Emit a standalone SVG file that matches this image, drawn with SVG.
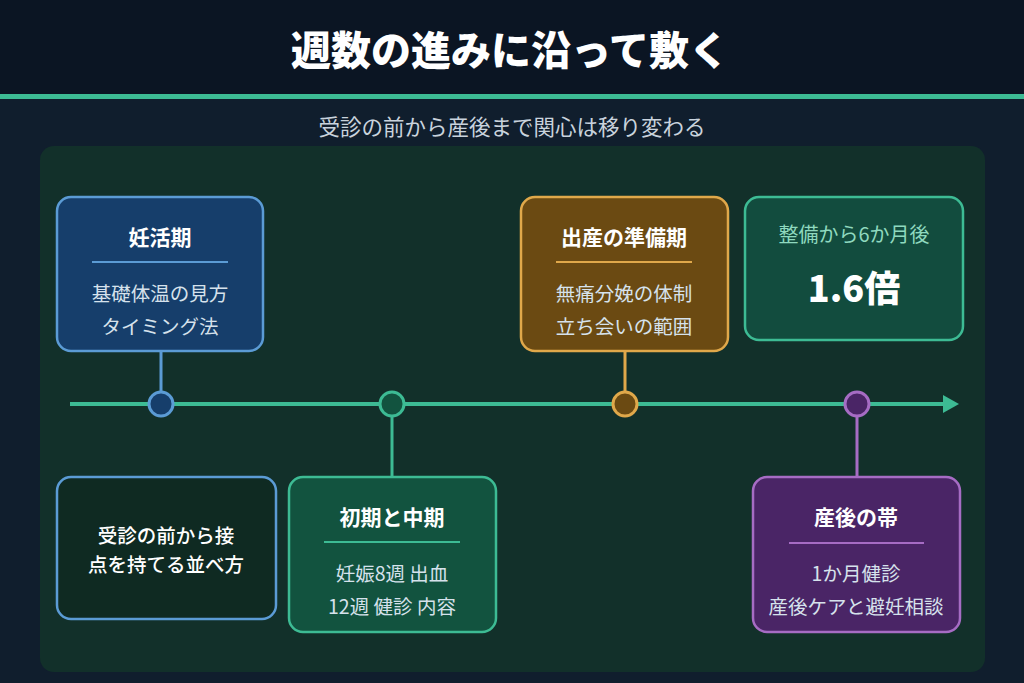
<svg xmlns="http://www.w3.org/2000/svg" width="1024" height="683" viewBox="0 0 1024 683">
<defs>
<style>
text{font-family:"Noto Sans CJK JP","Noto Sans",sans-serif;text-anchor:middle}
.title{font-size:40px;font-weight:900;fill:#ffffff}
.sub{font-size:21.5px;fill:#c9d3dd}
.h{font-size:21px;font-weight:700;fill:#ffffff}
.b{font-size:19.5px;fill:#d6e2ec}
.box{stroke-width:2.5}
</style>
</defs>
<rect x="0" y="0" width="1024" height="683" fill="#101e2d"/>
<rect x="0" y="0" width="1024" height="95" fill="#0b1523"/>
<rect x="0" y="94" width="1024" height="5" fill="#3dbb94"/>
<text class="title" x="510" y="65">週数の進みに沿って敷く</text>
<text class="sub" x="512" y="135">受診の前から産後まで関心は移り変わる</text>
<rect x="40" y="146" width="945" height="526" rx="14" fill="#12302a"/>

<g id="connectors" stroke-width="3" fill="none">
<line x1="70" y1="404" x2="944" y2="404" stroke="#3dbb94" stroke-width="4"/>
<path d="M943,395 L959,404 L943,413 Z" fill="#3dbb94" stroke="none"/>
<line x1="161" y1="351" x2="161" y2="392" stroke="#5b9bd5"/>
<line x1="392" y1="416" x2="392" y2="477" stroke="#3dbb94"/>
<line x1="625" y1="351" x2="625" y2="392" stroke="#e0a84a"/>
<line x1="857" y1="416" x2="857" y2="477" stroke="#a66cc4"/>
<circle cx="161" cy="404" r="12" fill="#163e6b" stroke="#5b9bd5"/>
<circle cx="392" cy="404" r="12" fill="#12533f" stroke="#3dbb94"/>
<circle cx="625" cy="404" r="12" fill="#6b4a12" stroke="#e0a84a"/>
<circle cx="857" cy="404" r="12" fill="#4a2566" stroke="#a66cc4"/>
</g>

<g id="node-ninkatsu">
<rect class="box" x="57" y="197" width="206" height="154" rx="14" fill="#163e6b" stroke="#5b9bd5"/>
<text class="h" x="160" y="245">妊活期</text>
<line x1="92" y1="262" x2="228" y2="262" stroke="#5b9bd5" stroke-width="2"/>
<text class="b" x="160" y="301">基礎体温の見方</text>
<text class="b" x="160" y="334">タイミング法</text>
</g>

<g id="node-shussan">
<rect class="box" x="521" y="197" width="207" height="154" rx="14" fill="#6b4a12" stroke="#e0a84a"/>
<text class="h" x="624" y="245">出産の準備期</text>
<line x1="556" y1="262" x2="692" y2="262" stroke="#e0a84a" stroke-width="2"/>
<text class="b" x="624" y="301">無痛分娩の体制</text>
<text class="b" x="624" y="334">立ち会いの範囲</text>
</g>

<g id="node-stat">
<rect class="box" x="745" y="197" width="218" height="143" rx="14" fill="#124c3e" stroke="#3dbb94"/>
<text x="854" y="242" style="font-size:20px;fill:#8fd9bf">整備から6か月後</text>
<text x="854" y="302" style="font-size:36px;font-weight:900;fill:#ffffff">1.6倍</text>
</g>

<g id="node-note">
<rect class="box" x="57" y="477" width="219" height="142" rx="14" fill="#0f2a22" stroke="#5b9bd5"/>
<text x="166" y="543" style="font-size:19.5px;font-weight:500;fill:#ffffff">受診の前から接</text>
<text x="166" y="572" style="font-size:19.5px;font-weight:500;fill:#ffffff">点を持てる並べ方</text>
</g>

<g id="node-shoki">
<rect class="box" x="289" y="477" width="207" height="155" rx="14" fill="#12533f" stroke="#3dbb94"/>
<text class="h" x="392" y="525">初期と中期</text>
<line x1="324" y1="542" x2="460" y2="542" stroke="#3dbb94" stroke-width="2"/>
<text class="b" x="392" y="581">妊娠8週 出血</text>
<text class="b" x="392" y="614">12週 健診 内容</text>
</g>

<g id="node-sango">
<rect class="box" x="753" y="477" width="207" height="155" rx="14" fill="#4a2566" stroke="#a66cc4"/>
<text class="h" x="856" y="525">産後の帯</text>
<line x1="789" y1="543" x2="924" y2="543" stroke="#a66cc4" stroke-width="2"/>
<text class="b" x="856" y="581">1か月健診</text>
<text class="b" x="856" y="614">産後ケアと避妊相談</text>
</g>
</svg>
